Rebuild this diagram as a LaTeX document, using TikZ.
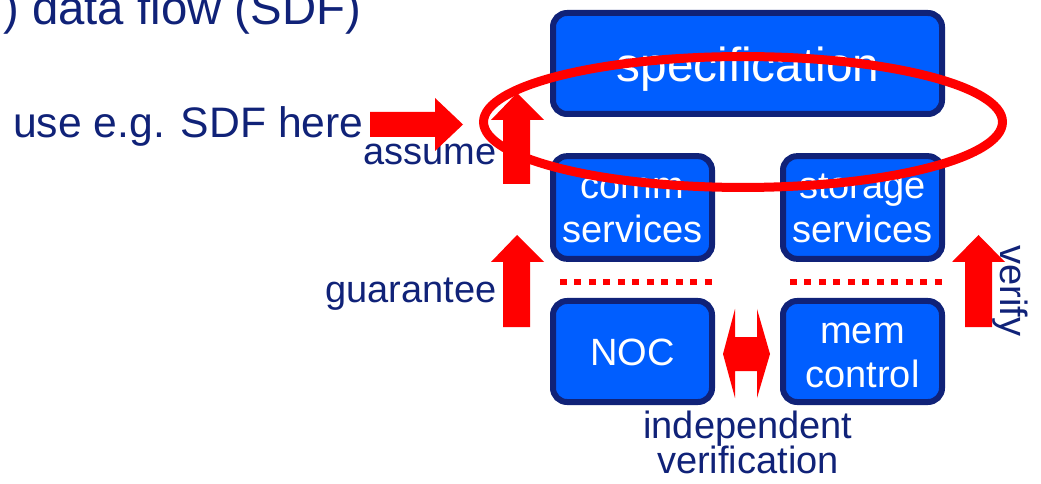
\documentclass[tikz,border=0pt]{standalone}
\usepackage{fontspec}
\setmainfont{Liberation Sans}
\definecolor{navy}{RGB}{16,34,120}
\definecolor{boxblue}{RGB}{0,94,255}
\definecolor{bred}{RGB}{255,0,0}
\begin{document}
\begin{tikzpicture}[x=0.75pt,y=-0.75pt,
  blk/.style={draw=navy,fill=boxblue,line width=4.5pt,rounded corners=10.5pt,
    text=white,align=center,inner sep=0pt,font=\fontsize{28.5}{33}\selectfont},
  lbl/.style={text=navy,inner sep=0pt,font=\fontsize{28.5}{33}\selectfont},
  barrow/.style={fill=bred},
  sep/.style={draw=bred,line width=4.5pt,dash pattern=on 5.25pt off 5.6pt}
]
\useasboundingbox (0,0) rectangle (1041,484);
% boxes
\node[blk,minimum width=291.75pt,minimum height=75.75pt,font=\fontsize{35.8}{40}\selectfont] (spec) at (747.5,63.5) {};
\node[text=white,inner sep=0pt,anchor=base,font=\fontsize{35.8}{40}\selectfont] (spectxt) at (748,82) {specification};
\node[blk,minimum width=119.25pt,minimum height=77pt] (comm) at (632.5,207.5) {};
\node[blk,minimum width=119.25pt,minimum height=77pt] (stor) at (862.5,207.5) {};
\node[blk,minimum width=119.25pt,minimum height=75.75pt] (noc) at (632.5,351.5) {};
\node[blk,minimum width=119.25pt,minimum height=75.75pt] (mem) at (862.5,351.5) {};
\begin{scope}[every node/.style={text=white,inner sep=0pt,anchor=base,font=\fontsize{28.5}{33}\selectfont}]
\node (commt1) at (632.5,199) {comm};
\node (commt2) at (632.5,243) {services};
\node (stort1) at (862.5,199) {storage};
\node (stort2) at (862.5,243) {services};
\node (noct) at (632.5,365) {NOC};
\node (memt1) at (862.5,343) {mem};
\node (memt2) at (862.5,387) {control};
\end{scope}
% dotted separators
\coordinate (d1a) at (560,282); \coordinate (d1b) at (715,282);
\coordinate (d2a) at (790,282); \coordinate (d2b) at (945,282);
\draw[sep] (d1a) -- (d1b);
\draw[sep] (d2a) -- (d2b);
% texts
\node[lbl,anchor=base west,font=\fontsize{35.5}{40}\selectfont] (title) at (3,25) {) data flow (SDF)};
\node[lbl,anchor=base west,font=\fontsize{32}{36}\selectfont] (use) at (13,138) {use e.g. SDF here};
\node[lbl,anchor=base east] (assume) at (497,165) {assume};
\node[lbl,anchor=base east] (guar) at (497,303) {guarantee};
\node[lbl,rotate=-90] (verify) at (1010,291) {verify};
\node[lbl,anchor=base] (indep1) at (748,438) {independent};
\node[lbl,anchor=base] (indep2) at (748,473) {verification};
% block arrows
\fill[barrow] (370,112) -- (435,112) -- (435,98) -- (463,124.5) -- (435,151) -- (435,137) -- (370,137) -- cycle;
\fill[barrow] (503,184) -- (503,120) -- (491,120) -- (517,93) -- (544,120) -- (530,120) -- (530,184) -- cycle;
\fill[barrow] (503,327) -- (503,262) -- (491,262) -- (517,235) -- (544,262) -- (530,262) -- (530,327) -- cycle;
\fill[barrow] (965,327) -- (965,262) -- (952,262) -- (978.5,235) -- (1005,262) -- (992,262) -- (992,327) -- cycle;
\fill[barrow] (723,354) -- (735,309) -- (735,337) -- (757,337) -- (757,309) -- (770,354) -- (757,398) -- (757,371) -- (735,371) -- (735,398) -- cycle;
% ellipse
\coordinate (ec) at (743,122);
\draw[bred,line width=6.75pt] (ec) ellipse [x radius=194.6pt,y radius=49.1pt];
\end{tikzpicture}
\end{document}
